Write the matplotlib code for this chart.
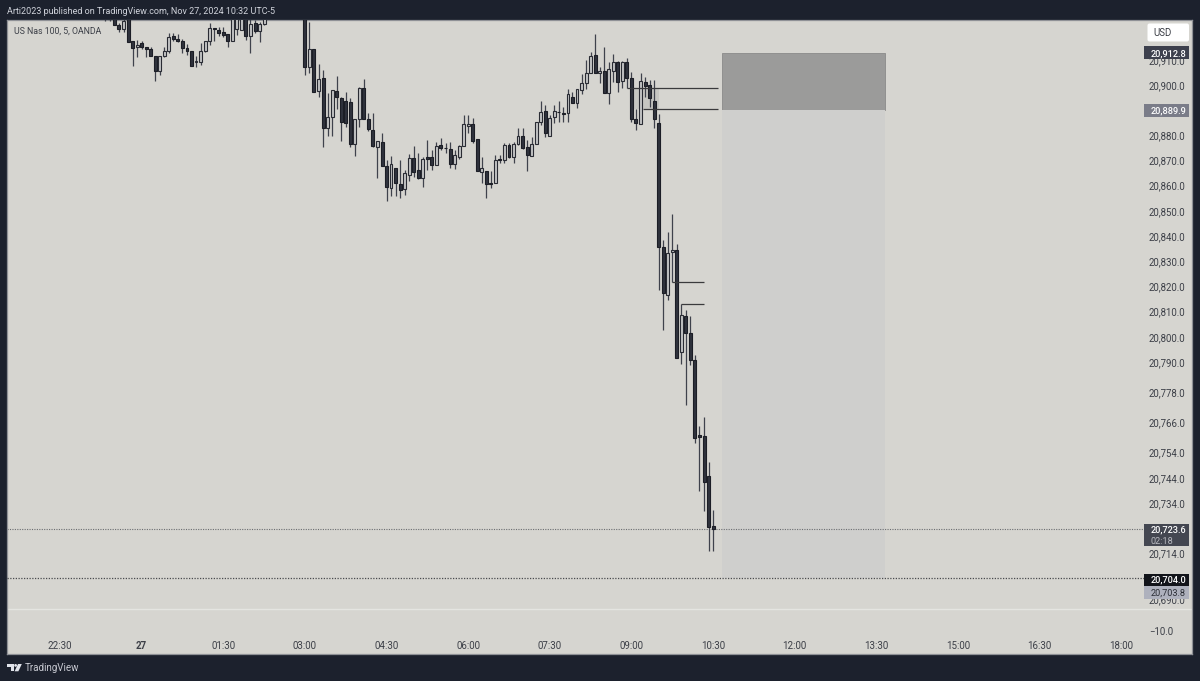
import numpy as np
import matplotlib
matplotlib.use('Agg')
import matplotlib.pyplot as plt
from matplotlib.patches import Rectangle, Polygon, Circle, FancyBboxPatch
from matplotlib.transforms import Affine2D

plt.rcParams['font.family'] = ['Roboto', 'DejaVu Sans']

# 5 minute bars, position 0 is 22:30 on Nov 26
bar_index = list(range(10, 46)) + list(range(54, 145))

opens = [
    20928.2, 20926.2, 20927.8, 20923.7, 20922.4, 20927.8, 20917.4, 20915.0, 20916.6, 20915.2,
    20914.2, 20911.5, 20905.4, 20911.5, 20913.4, 20919.5, 20918.4, 20917.4, 20914.8, 20913.4,
    20909.0, 20909.1, 20913.4, 20917.4, 20922.6, 20921.8, 20921.1, 20920.3, 20917.4, 20922.1,
    20921.8, 20927.0, 20919.5, 20924.5, 20921.6, 20924.2,
    20931.8, 20907.3, 20914.2, 20897.7, 20902.8, 20883.0, 20887.4, 20897.6, 20895.0, 20893.8,
    20893.4, 20876.5, 20886.5, 20898.7, 20886.4, 20882.1, 20875.5, 20877.4, 20867.7, 20859.0,
    20866.9, 20860.7, 20858.6, 20864.3, 20871.0, 20866.2, 20862.9, 20871.3, 20871.3, 20868.4,
    20876.1, 20875.1, 20874.5, 20868.6, 20871.5, 20875.9, 20883.6, 20884.5, 20878.4, 20865.5,
    20865.7, 20861.0, 20861.0, 20870.6, 20870.0, 20876.2, 20871.5, 20876.6, 20879.9, 20875.3,
    20871.8, 20876.4, 20885.3, 20889.5, 20879.9, 20887.4, 20889.4, 20889.0, 20888.8, 20895.3,
    20892.7, 20898.0, 20900.7, 20904.9, 20911.9, 20904.7, 20905.7, 20896.7, 20905.7, 20909.3,
    20901.7, 20909.0, 20902.7, 20886.5, 20884.4, 20901.2, 20899.9, 20893.6, 20885.0, 20835.8,
    20816.6, 20833.6, 20834.5, 20793.8, 20808.4, 20801.4, 20790.8, 20761.0, 20760.7, 20744.5,
    20724.9,
]
closes = [
    20926.6, 20927.8, 20923.7, 20922.4, 20925.3, 20917.2, 20914.8, 20915.9, 20915.0, 20914.4,
    20911.6, 20905.7, 20911.5, 20913.4, 20919.0, 20918.2, 20917.4, 20914.8, 20913.6, 20907.7,
    20909.5, 20913.4, 20917.4, 20922.6, 20922.4, 20920.8, 20920.0, 20917.4, 20926.2, 20927.8,
    20926.6, 20919.5, 20924.2, 20921.6, 20924.2, 20928.2,
    20907.3, 20914.2, 20897.1, 20902.5, 20883.0, 20887.2, 20897.9, 20895.4, 20885.3, 20884.8,
    20876.7, 20886.5, 20898.8, 20886.5, 20882.5, 20875.8, 20877.8, 20868.0, 20859.6, 20868.5,
    20861.0, 20858.3, 20864.9, 20871.1, 20865.6, 20863.2, 20870.7, 20870.6, 20868.4, 20875.9,
    20874.9, 20875.0, 20868.6, 20872.2, 20875.8, 20884.5, 20884.5, 20877.9, 20866.0, 20866.9,
    20860.7, 20860.7, 20870.3, 20870.1, 20876.2, 20871.5, 20876.6, 20879.9, 20875.1, 20872.1,
    20876.4, 20885.3, 20889.2, 20880.8, 20886.9, 20889.8, 20889.3, 20888.6, 20896.4, 20892.7,
    20898.3, 20900.7, 20904.9, 20911.6, 20904.9, 20905.6, 20896.7, 20906.2, 20909.0, 20901.3,
    20909.0, 20902.9, 20886.4, 20884.8, 20901.7, 20899.7, 20895.0, 20886.4, 20835.8, 20817.3,
    20833.2, 20834.5, 20791.5, 20808.7, 20801.4, 20790.8, 20759.7, 20760.1, 20742.5, 20724.3,
    20723.6,
]
highs = [
    20929.0, 20929.0, 20929.0, 20924.5, 20926.2, 20929.0, 20917.5, 20917.9, 20917.6, 20915.2,
    20915.2, 20911.5, 20911.5, 20915.0, 20920.5, 20920.5, 20920.3, 20918.2, 20916.3, 20913.4,
    20911.5, 20916.6, 20917.4, 20924.5, 20922.6, 20923.2, 20923.2, 20920.3, 20927.0, 20929.0,
    20927.8, 20927.8, 20926.6, 20925.8, 20925.0, 20929.8,
    20932.6, 20925.1, 20914.2, 20908.2, 20906.0, 20896.7, 20898.0, 20903.7, 20895.2, 20897.2,
    20894.8, 20886.5, 20899.3, 20902.3, 20889.0, 20889.0, 20877.8, 20881.1, 20870.2, 20871.8,
    20866.9, 20870.2, 20866.2, 20872.5, 20875.8, 20873.1, 20871.3, 20878.2, 20874.2, 20877.5,
    20878.8, 20877.1, 20877.5, 20874.2, 20876.2, 20888.1, 20888.1, 20886.8, 20878.4, 20871.5,
    20865.7, 20866.0, 20872.2, 20872.2, 20877.1, 20877.1, 20877.5, 20882.8, 20882.8, 20878.2,
    20879.2, 20885.3, 20893.8, 20892.2, 20888.1, 20892.0, 20893.6, 20891.4, 20898.3, 20897.3,
    20898.3, 20904.2, 20910.0, 20913.2, 20920.3, 20907.3, 20915.2, 20909.3, 20912.3, 20909.7,
    20909.7, 20910.8, 20905.3, 20890.3, 20904.7, 20903.1, 20902.0, 20902.0, 20888.4, 20838.4,
    20841.5, 20848.7, 20836.9, 20813.0, 20810.6, 20808.3, 20792.8, 20764.6, 20768.3, 20750.2,
    20731.2,
]
lows = [
    20925.6, 20925.6, 20923.7, 20921.2, 20921.2, 20917.2, 20907.7, 20911.2, 20914.2, 20911.0,
    20911.5, 20901.7, 20903.8, 20911.0, 20912.8, 20917.6, 20917.1, 20912.6, 20911.9, 20907.5,
    20907.3, 20907.8, 20913.1, 20915.9, 20917.6, 20919.5, 20919.0, 20915.2, 20917.4, 20919.7,
    20921.8, 20917.9, 20912.8, 20920.5, 20917.1, 20923.7,
    20904.0, 20904.8, 20897.1, 20895.3, 20875.3, 20879.8, 20879.8, 20890.3, 20877.9, 20883.2,
    20875.5, 20871.9, 20883.4, 20886.5, 20881.8, 20875.5, 20862.9, 20868.0, 20854.1, 20855.9,
    20855.9, 20855.0, 20856.3, 20862.0, 20863.6, 20862.5, 20859.4, 20866.2, 20866.2, 20868.4,
    20874.2, 20873.1, 20866.9, 20866.6, 20870.7, 20875.9, 20880.8, 20877.1, 20866.0, 20861.2,
    20855.2, 20859.0, 20861.0, 20868.9, 20869.2, 20871.1, 20869.2, 20876.2, 20874.5, 20866.0,
    20871.8, 20876.4, 20884.1, 20879.5, 20879.9, 20885.0, 20885.4, 20885.4, 20885.4, 20892.7,
    20891.0, 20896.3, 20898.3, 20904.9, 20904.9, 20900.9, 20896.7, 20892.3, 20901.3, 20897.3,
    20898.7, 20898.9, 20885.4, 20882.1, 20884.4, 20895.4, 20891.4, 20882.8, 20818.6, 20802.7,
    20814.6, 20821.6, 20791.5, 20789.1, 20772.9, 20788.8, 20757.8, 20738.9, 20730.9, 20714.9,
    20714.9,
]

# Price levels of the position tool and the marked gaps
stop_price = 20912.8
entry_price = 20889.9
target_price = 20704.0
last_price = 20723.6
bid_price = 20703.8
gap_levels = [20898.9, 20890.3, 20821.6, 20813.0]
pane_divider = 20691.9

time_ticks = [0, 18, 36, 54, 72, 90, 108, 126, 144, 162, 180, 198, 216, 234]
time_labels = ['22:30', '27', '01:30', '03:00', '04:30', '06:00', '07:30', '09:00',
               '10:30', '12:00', '13:30', '15:00', '16:30', '18:00']
price_ticks = [20910.0, 20900.0, 20880.0, 20870.0, 20860.0, 20850.0, 20840.0, 20830.0,
               20820.0, 20810.0, 20800.0, 20790.0, 20778.0, 20766.0, 20754.0, 20744.0,
               20734.0, 20714.0, 20695.8, 20683.2]
price_labels = ['20,910.0', '20,900.0', '20,880.0', '20,870.0', '20,860.0', '20,850.0',
                '20,840.0', '20,830.0', '20,820.0', '20,810.0', '20,800.0', '20,790.0',
                '20,778.0', '20,766.0', '20,754.0', '20,744.0', '20,734.0', '20,714.0',
                '20,690.0', '\u221210.0']

assert len(bar_index) == len(opens) == len(closes) == len(highs) == len(lows)

BG = '#d6d5d0'
FRAME = '#1c212d'
TEXT = '#3c3f47'

fig = plt.figure(figsize=(12, 6.81), dpi=100, facecolor=FRAME)
ax = fig.add_axes([7 / 1200, 1 - 654 / 681, 1185 / 1200, 634 / 681], facecolor=BG)
ax.set_xlim(-11.69, 249.6)
ax.set_ylim(20674.0, 20925.8)
for s in ax.spines.values():
    s.set_color('#8f9196')
    s.set_linewidth(0.9)

# Axis labels sit inside the panel, like a chart price scale
ax.yaxis.tick_right()
ax.set_yticks(price_ticks, price_labels)
ax.set_xticks(time_ticks, time_labels)
ax.tick_params(axis='y', length=0, pad=-31, labelsize=6.9, labelcolor=TEXT)
ax.tick_params(axis='x', length=0, pad=-9.2, labelsize=7.0, labelcolor=TEXT)
ax.get_xticklabels()[1].set_fontweight('bold')
for lab in ax.get_yticklabels():
    lab.set_va('center_baseline')

# Position boxes
ax.add_patch(Rectangle((146, entry_price), 36, stop_price - entry_price,
                       fc='#9b9b9a', ec='#8a8a8a', lw=0.6, zorder=1))
ax.add_patch(Rectangle((146, target_price), 36, entry_price - target_price,
                       fc='#cfcfcd', ec='none', zorder=1))
ax.add_patch(Rectangle((126.5, gap_levels[1]), 5.5, gap_levels[0] - gap_levels[1],
                       fc='#c6c6c2', ec='none', zorder=1))

# Candles
idx = np.array(bar_index)
o, c, h, l = map(np.array, (opens, closes, highs, lows))
up = c >= o
ax.vlines(idx, l, h, color='#3f424c', lw=0.9, zorder=3)
ax.bar(idx[up], (c - o)[up], bottom=o[up], width=0.62,
       color='#c4c5c5', edgecolor='#2a2c34', linewidth=0.8, zorder=4)
ax.bar(idx[~up], (o - c)[~up], bottom=c[~up], width=0.66,
       color='#30333d', edgecolor='#1c1e26', linewidth=0.8, zorder=4)

# Gap rays
ax.hlines(gap_levels[0], 125, 145, color='#3a3a3c', lw=0.9, zorder=5)
ax.hlines(gap_levels[1], 128.5, 145, color='#3a3a3c', lw=0.9, zorder=5)
ax.hlines(gap_levels[2], 135, 142, color='#3a3a3c', lw=0.9, zorder=5)
ax.hlines(gap_levels[3], 137, 142, color='#3a3a3c', lw=0.9, zorder=5)

# Last price and target dotted lines, pane divider
ax.hlines(last_price, -11.69, 239, color='#6b6d70', lw=0.8, ls=(0, (1, 1.2)), zorder=2)
ax.hlines(target_price, -11.69, 239, color='#4a4b4e', lw=0.9, ls=(0, (1, 1.2)), zorder=6)
ax.axhline(pane_divider, color='#e5e5e1', lw=1.0, zorder=1)


def price_tag(ytop, ybot, color):
    ax.add_patch(Rectangle((239, ybot), 9.95, ytop - ybot, fc=color, ec='none', zorder=7))


def tag_text(y, s, color='white', weight='medium'):
    ax.text(240.5, y, s, color=color, fontsize=6.55, fontweight=weight,
            va='center_baseline', ha='left', zorder=8)


price_tag(stop_price + 2.5, stop_price - 2.6, '#3d404d')
tag_text(stop_price, '20,912.8')
price_tag(entry_price + 2.4, entry_price - 2.8, '#7a7c88')
tag_text(entry_price, '20,889.9')
price_tag(last_price + 2.2, last_price - 6.8, '#444751')
tag_text(last_price, '20,723.6')
ax.text(240.5, last_price - 4.6, '02:18', color='#b9bac0', fontsize=6.55,
        va='center_baseline', ha='left', zorder=8)
price_tag(target_price + 1.8, target_price - 3.0, '#12141a')
tag_text(target_price, '20,704.0')
price_tag(bid_price - 2.8, bid_price - 7.9, '#aeb1bd')
tag_text(bid_price - 5.4, '20,703.8', color='#2a2d35', weight='normal')

ax.text(-11.69 + 1.45, 20921.5, 'US Nas 100, 5, OANDA', color=TEXT, fontsize=6.3,
        va='center', ha='left', zorder=8)

# Everything outside the plot is positioned in image pixels
px = Affine2D().scale(1 / 1200, -1 / 681).translate(0, 1) + fig.transFigure

fig.add_artist(FancyBboxPatch((1149, 25), 38.5, 15, boxstyle='round,pad=1.5,rounding_size=2',
                              fc='white', ec='none', transform=px, zorder=9))
fig.text(1153 / 1200, 1 - 33 / 681, 'USD', color=TEXT, fontsize=6.9, va='center', zorder=10)

fig.text(7 / 1200, 1 - 11 / 681, 'Arti2023 published on TradingView.com, Nov 27, 2024 10:32 UTC-5',
         color='#d1d4dc', fontsize=6.45, va='center')
fig.text(25 / 1200, 1 - 668 / 681, 'TradingView', color='#c8cad2', fontsize=7.0, va='center')

# Footer logo
logo = '#e0e3ea'
fig.add_artist(Polygon([(7.3, 664), (13.9, 664), (13.9, 671.3), (10.5, 671.3), (10.5, 667), (7.3, 667)],
                       fc=logo, ec='none', transform=px))
fig.add_artist(Circle((15.6, 665.4), 1.4, fc=logo, ec='none', transform=px))
fig.add_artist(Polygon([(18.0, 664), (21.8, 664), (18.4, 671.3), (14.6, 671.3)],
                       fc=logo, ec='none', transform=px))

fig.savefig('out.png', dpi=100, facecolor=FRAME)
